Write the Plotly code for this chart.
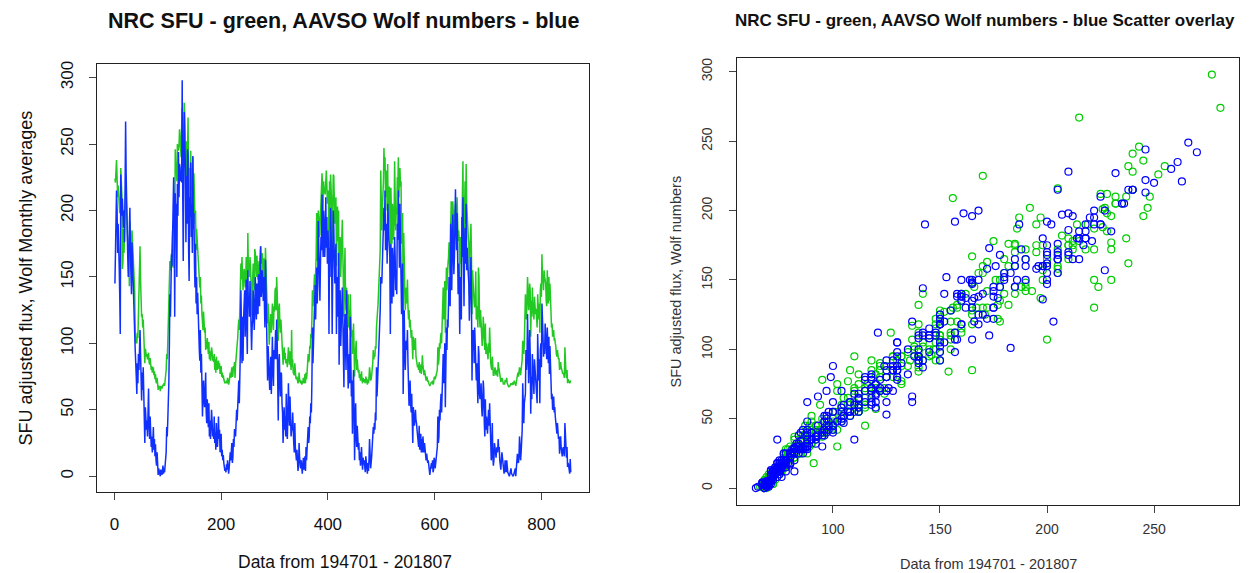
import plotly.graph_objects as go

# ---------------- data (monthly, 1947-01 onward) ----------------
# AAVSO Wolf numbers (blue), one row per year
wolf = [
    145, 178, 196, 215, 201, 168, 190, 180, 158, 136, 107, 227,   # 1947
    212, 196, 209, 198, 187, 200, 176, 215, 267, 228, 190, 172,   # 1948
    165, 150, 178, 190, 202, 168, 155, 137, 176, 160, 142, 120,   # 1949
    120, 108, 95, 88, 75, 62, 85, 70, 92, 80, 98, 110,            # 1950
    92, 70, 57, 78, 65, 82, 60, 48, 25, 52, 40, 35,               # 1951
    42, 30, 48, 66, 38, 28, 45, 34, 22, 30, 18, 26,               # 1952
    37, 20, 28, 15, 24, 12, 8, 18, 10, 1, 6, 4,                   # 1953
    2, 0, 5, 3, 1, 4, 8, 2, 6, 3, 10, 12,                         # 1954
    18, 37, 30, 42, 55, 70, 100, 137, 120, 150, 167, 158,         # 1955
    175, 192, 225, 196, 120, 213, 185, 205, 150, 220, 196, 244,   # 1956
    210, 235, 232, 222, 228, 221, 298, 215, 162, 230, 274, 249,   # 1957
    232, 176, 226, 190, 246, 242, 172, 147, 210, 195, 236, 180,   # 1958
    205, 168, 241, 186, 198, 160, 142, 175, 130, 150, 122, 138,   # 1959
    118, 105, 96, 87, 110, 78, 92, 70, 45, 60, 72, 58,            # 1960
    52, 64, 78, 48, 40, 58, 44, 37, 55, 30, 42, 28,               # 1961
    38, 50, 42, 30, 35, 28, 45, 25, 33, 20, 40, 26,               # 1962
    22, 30, 45, 28, 35, 18, 25, 32, 15, 20, 12, 16,               # 1963
    10, 8, 4, 6, 3, 9, 5, 12, 7, 2, 6, 14,                        # 1964
    18, 12, 20, 25, 10, 14, 28, 22, 35, 35, 30, 38,               # 1965
    50, 42, 58, 60, 72, 55, 68, 95, 140, 110, 85, 120,            # 1966
    87, 118, 130, 140, 105, 125, 148, 112, 92, 155, 128, 135,     # 1967
    120, 147, 132, 108, 95, 112, 118, 140, 128, 110, 125, 150,    # 1968
    130, 118, 145, 138, 122, 152, 140, 128, 160, 173, 135, 148,   # 1969
    155, 140, 132, 150, 125, 112, 163, 138, 118, 92, 72, 98,      # 1970
    85, 80, 65, 78, 90, 62, 75, 105, 82, 68, 95, 88,              # 1971
    95, 110, 88, 118, 102, 75, 42, 85, 92, 70, 60, 78,            # 1972
    77, 55, 48, 25, 40, 52, 35, 45, 30, 62, 38, 28,               # 1973
    45, 70, 52, 38, 60, 42, 30, 35, 35, 48, 28, 25,               # 1974
    18, 40, 22, 15, 12, 20, 10, 4, 8, 25, 14, 10,                 # 1975
    6, 12, 3, 2, 8, 14, 5, 10, 15, 4, 22, 12,                     # 1976
    20, 28, 37, 25, 30, 45, 40, 55, 48, 70, 112, 85,              # 1977
    100, 115, 127, 144, 118, 135, 157, 130, 145, 192, 170, 155,   # 1978
    132, 158, 180, 170, 212, 185, 165, 200, 190, 165, 178, 210,   # 1979
    172, 195, 160, 185, 175, 107, 172, 150, 202, 180, 165, 107,   # 1980
    155, 200, 188, 165, 145, 162, 175, 107, 150, 120, 132, 168,   # 1981
    84, 125, 140, 98, 115, 130, 142, 118, 95, 67, 110, 122,       # 1982
    98, 80, 140, 105, 88, 66, 75, 92, 70, 120, 85, 60,            # 1983
    72, 32, 65, 80, 48, 12, 40, 55, 30, 22, 38, 29,               # 1984
    20, 25, 12, 18, 8, 15, 22, 10, 5, 14, 9, 12,                  # 1985
    6, 3, 15, 8, 5, 2, 10, 4, 12, 28, 18, 6,                      # 1986
    10, 15, 22, 28, 37, 32, 40, 35, 48, 42, 82, 60,               # 1987
    70, 88, 95, 102, 112, 125, 150, 145, 145, 160, 175, 190,      # 1988
    202, 185, 215, 170, 177, 190, 160, 205, 195, 180, 172, 165,   # 1989
    107, 175, 148, 130, 172, 160, 135, 150, 180, 165, 140, 155,   # 1990
    137, 190, 178, 215, 165, 157, 205, 180, 130, 122, 145, 160,   # 1991
    62, 101, 125, 92, 80, 100, 102, 95, 110, 85, 68, 53,          # 1992
    60, 72, 55, 48, 62, 40, 25, 52, 45, 38, 42, 50,               # 1993
    42, 40, 35, 28, 30, 22, 38, 20, 25, 32, 18, 28,               # 1994
    18, 30, 22, 18, 25, 20, 15, 12, 17, 14, 10, 12,               # 1995
    8, 4, 1, 5, 7, 10, 6, 12, 3, 5, 14, 12,                       # 1996
    6, 10, 15, 18, 22, 45, 25, 30, 50, 42, 55, 62,                # 1997
    48, 68, 75, 92, 70, 85, 100, 52, 110, 112, 95, 118,           # 1998
    112, 130, 150, 138, 128, 190, 182, 140, 160, 197, 175, 152,   # 1999
    165, 180, 216, 190, 170, 198, 175, 137, 160, 145, 107, 150,   # 2000
    130, 118, 195, 165, 210, 142, 128, 170, 187, 160, 205, 155,   # 2001
    172, 160, 155, 145, 117, 138, 150, 165, 130, 72, 110, 95,     # 2002
    110, 85, 112, 90, 84, 72, 85, 68, 55, 98, 92, 62,             # 2003
    58, 62, 70, 52, 45, 55, 72, 65, 40, 30, 58, 35,               # 2004
    45, 38, 32, 42, 50, 38, 55, 40, 28, 12, 18, 40,               # 2005
    15, 8, 12, 25, 22, 18, 14, 20, 22, 18, 28, 20,                # 2006
    22, 12, 8, 5, 12, 18, 14, 8, 4, 2, 5, 12,                     # 2007
    5, 3, 12, 4, 3, 2, 1, 0, 2, 4, 6, 2,                          # 2008
    1, 1, 0, 1, 3, 4, 6, 0, 5, 8, 17, 12,                         # 2009
    10, 15, 30, 22, 12, 18, 25, 35, 70, 48, 40, 55,               # 2010
    60, 62, 95, 80, 88, 122, 98, 70, 85, 110, 92, 47,             # 2011
    75, 58, 92, 85, 70, 62, 88, 80, 80, 72, 65, 55,               # 2012
    107, 85, 72, 88, 55, 95, 100, 82, 130, 118, 105, 90,          # 2013
    100, 92, 115, 108, 95, 88, 112, 100, 85, 105, 77, 98,         # 2014
    80, 65, 58, 62, 50, 55, 60, 48, 52, 45, 42, 37,               # 2015
    32, 40, 35, 28, 30, 17, 25, 30, 22, 18, 15, 20,               # 2016
    22, 18, 15, 40, 25, 20, 14, 22, 7, 10, 8, 6,                  # 2017
    2, 13, 3,                                                     # 2018
]

# NRC adjusted solar flux in SFU (green), one row per year
flux = [
    224, 221, 230, 238, 226, 210, 219, 214, 205, 198, 200, 232,   # 1947
    225, 212, 156, 161, 186, 168, 182, 205, 215, 210, 195, 188,   # 1948
    180, 165, 175, 143, 192, 178, 170, 166, 185, 176, 172, 166,   # 1949
    158, 140, 110, 100, 102, 100, 108, 104, 118, 125, 150, 173,   # 1950
    148, 128, 120, 122, 112, 118, 104, 98, 85, 96, 92, 90,        # 1951
    92, 88, 90, 93, 86, 84, 89, 85, 80, 83, 78, 81,               # 1952
    82, 76, 79, 73, 77, 71, 70, 74, 70, 65, 68, 67,               # 1953
    67, 64, 68, 67, 66, 67, 69, 68, 70, 68, 72, 75,               # 1954
    80, 92, 88, 100, 112, 125, 148, 162, 155, 160, 165, 172,      # 1955
    185, 157, 170, 165, 178, 246, 228, 236, 222, 250, 245, 246,   # 1956
    248, 261, 255, 246, 240, 263, 277, 240, 238, 258, 281, 266,   # 1957
    238, 205, 252, 218, 243, 270, 212, 200, 232, 222, 245, 215,   # 1958
    232, 205, 240, 210, 228, 196, 190, 200, 170, 186, 177, 175,   # 1959
    165, 152, 146, 142, 150, 130, 136, 122, 115, 110, 124, 112,   # 1960
    108, 112, 95, 102, 96, 104, 98, 92, 101, 88, 94, 87,          # 1961
    92, 97, 94, 87, 90, 86, 92, 80, 88, 78, 90, 82,               # 1962
    80, 84, 87, 81, 85, 77, 79, 83, 75, 78, 74, 76,               # 1963
    73, 72, 70, 71, 70, 72, 70, 74, 72, 69, 71, 75,               # 1964
    78, 74, 79, 82, 75, 76, 83, 80, 86, 74, 84, 88,               # 1965
    95, 98, 104, 112, 118, 110, 124, 138, 160, 148, 165, 152,     # 1966
    140, 150, 156, 152, 142, 150, 165, 148, 140, 183, 155, 160,   # 1967
    150, 165, 158, 145, 132, 121, 148, 160, 155, 140, 171, 168,   # 1968
    158, 150, 166, 160, 148, 153, 162, 155, 170, 173, 160, 165,   # 1969
    168, 158, 140, 164, 150, 142, 172, 158, 140, 128, 115, 130,   # 1970
    122, 99, 107, 115, 122, 108, 116, 130, 120, 110, 128, 124,    # 1971
    140, 142, 125, 150, 138, 120, 102, 125, 130, 115, 108, 118,   # 1972
    107, 100, 96, 84, 90, 97, 88, 93, 85, 88, 87, 82,             # 1973
    92, 97, 90, 84, 94, 86, 80, 110, 82, 88, 78, 77,              # 1974
    76, 85, 77, 74, 73, 75, 72, 70, 71, 78, 73, 72,               # 1975
    70, 72, 69, 70, 71, 74, 70, 72, 77, 70, 78, 73,               # 1976
    78, 84, 92, 86, 88, 98, 96, 107, 104, 118, 140, 128,          # 1977
    138, 145, 152, 142, 150, 165, 198, 162, 178, 200, 195, 180,   # 1978
    182, 195, 210, 205, 228, 218, 200, 222, 214, 215, 212, 225,   # 1979
    230, 220, 205, 215, 212, 157, 222, 200, 227, 218, 205, 165,   # 1980
    205, 227, 226, 205, 190, 200, 210, 158, 198, 203, 177, 200,   # 1981
    140, 168, 180, 150, 160, 175, 193, 168, 145, 120, 150, 172,   # 1982
    135, 125, 142, 130, 122, 137, 112, 125, 110, 137, 118, 105,   # 1983
    110, 92, 105, 115, 96, 75, 90, 98, 102, 80, 88, 82,           # 1984
    78, 80, 74, 77, 72, 75, 79, 72, 70, 74, 71, 73,               # 1985
    71, 70, 75, 72, 71, 69, 73, 70, 74, 82, 78, 72,               # 1986
    73, 76, 80, 85, 95, 88, 92, 90, 98, 96, 112, 118,             # 1987
    118, 130, 140, 150, 157, 170, 230, 185, 185, 200, 210, 222,   # 1988
    247, 230, 240, 210, 230, 225, 200, 235, 187, 215, 218, 205,   # 1989
    155, 217, 190, 175, 205, 198, 178, 190, 237, 212, 185, 200,   # 1990
    197, 225, 215, 240, 210, 227, 232, 218, 222, 175, 188, 198,   # 1991
    118, 183, 165, 140, 125, 135, 142, 130, 148, 128, 118, 125,   # 1992
    112, 118, 108, 104, 110, 100, 88, 105, 98, 95, 100, 104,      # 1993
    90, 88, 86, 82, 84, 80, 86, 78, 81, 84, 77, 82,               # 1994
    91, 84, 79, 76, 80, 77, 75, 72, 75, 74, 71, 72,               # 1995
    70, 69, 68, 69, 70, 71, 70, 72, 69, 70, 74, 75,               # 1996
    73, 75, 77, 78, 80, 97, 84, 88, 100, 96, 104, 108,            # 1997
    100, 112, 120, 142, 118, 130, 147, 108, 150, 157, 140, 160,   # 1998
    160, 165, 176, 160, 150, 187, 207, 170, 182, 207, 198, 180,   # 1999
    190, 198, 205, 202, 185, 210, 195, 177, 185, 178, 150, 180,   # 2000
    172, 160, 197, 185, 237, 175, 165, 200, 222, 190, 235, 205,   # 2001
    190, 185, 180, 175, 137, 168, 178, 190, 165, 122, 155, 140,   # 2002
    145, 130, 127, 132, 154, 118, 128, 120, 112, 157, 150, 120,   # 2003
    112, 125, 115, 105, 98, 104, 120, 112, 95, 95, 115, 92,       # 2004
    100, 96, 90, 88, 100, 93, 112, 90, 85, 82, 80, 90,            # 2005
    78, 76, 76, 80, 82, 79, 76, 78, 80, 75, 86, 82,               # 2006
    80, 75, 72, 71, 72, 74, 73, 71, 69, 70, 69, 72,               # 2007
    72, 71, 74, 70, 69, 68, 67, 68, 68, 69, 70, 69,               # 2008
    69, 70, 69, 69, 72, 70, 71, 68, 71, 74, 76, 78,               # 2009
    75, 78, 82, 80, 76, 80, 84, 88, 102, 96, 92, 100,             # 2010
    115, 137, 128, 118, 132, 150, 140, 125, 130, 145, 140, 105,   # 2011
    132, 120, 142, 128, 122, 118, 135, 130, 122, 126, 115, 112,   # 2012
    137, 128, 118, 130, 108, 140, 145, 135, 167, 150, 148, 140,   # 2013
    155, 150, 148, 145, 132, 128, 155, 140, 130, 150, 132, 145,   # 2014
    128, 118, 112, 115, 105, 108, 110, 102, 104, 100, 98, 92,     # 2015
    90, 95, 92, 88, 89, 80, 84, 86, 82, 80, 78, 77,               # 2016
    78, 76, 74, 97, 82, 78, 74, 80, 70, 73, 72, 71,               # 2017
    70, 71, 72,                                                   # 2018
]

months = list(range(1, len(wolf) + 1))

left_title = "NRC SFU - green, AAVSO Wolf numbers - blue"
right_title = "NRC SFU - green, AAVSO Wolf numbers - blue Scatter overlay"
x_title = "Data from 194701 - 201807"
left_y_title = "SFU adjusted flux, Wolf Monthly averages"
right_y_title = "SFU adjusted flux, Wolf numbers"
left_xticks = [0, 200, 400, 600, 800]
left_yticks = [0, 50, 100, 150, 200, 250, 300]
right_xticks = [100, 150, 200, 250]
right_yticks = [0, 50, 100, 150, 200, 250, 300]

# ---------------- layout helpers ----------------
W, H = 1250, 573


def fx(p):
    return p / W


def fy(p):
    return 1 - p / H


def rpad(lo, hi):
    d = (hi - lo) * 0.04
    return [lo - d, hi + d]


GREEN_LINE = "#22C922"
BLUE_LINE = "#1030FF"
GREEN_PT = "#00CD00"
BLUE_PT = "#0000FF"
FONT = "Liberation Sans, Arial, Helvetica, sans-serif"

fig = go.Figure()
fig.add_trace(go.Scatter(x=months, y=flux, mode="lines",
                         line=dict(color=GREEN_LINE, width=1.5),
                         xaxis="x", yaxis="y", showlegend=False, hoverinfo="skip"))
fig.add_trace(go.Scatter(x=months, y=wolf, mode="lines",
                         line=dict(color=BLUE_LINE, width=1.5),
                         xaxis="x", yaxis="y", showlegend=False, hoverinfo="skip"))
fig.add_trace(go.Scatter(x=flux[0::2], y=wolf[0::2], mode="markers",
                         marker=dict(symbol="circle-open", size=7, color=GREEN_PT,
                                     line=dict(width=1.2, color=GREEN_PT)),
                         xaxis="x2", yaxis="y2", showlegend=False, hoverinfo="skip"))
fig.add_trace(go.Scatter(x=flux[1::2], y=wolf[1::2], mode="markers",
                         marker=dict(symbol="circle-open", size=7, color=BLUE_PT,
                                     line=dict(width=1.2, color=BLUE_PT)),
                         xaxis="x2", yaxis="y2", showlegend=False, hoverinfo="skip"))

allv = flux + wolf
yr = rpad(min(allv), max(allv))
wr = rpad(min(wolf), max(wolf))

axis_common = dict(showline=True, mirror=True, linecolor="#222", linewidth=1,
                   ticks="outside", ticklen=7, tickcolor="#444", tickwidth=1,
                   showgrid=False, zeroline=False, fixedrange=True)

fig.update_layout(
    width=W, height=H, autosize=False,
    margin=dict(l=0, r=0, t=0, b=0, pad=0),
    paper_bgcolor="white", plot_bgcolor="white",
    font=dict(family=FONT, color="#111"),
    xaxis=dict(domain=[fx(96.7), fx(589)], range=rpad(1, len(months)),
               tickvals=left_xticks, tickfont=dict(size=17, color="#111"),
               ticklabelstandoff=9, anchor="y", **axis_common),
    yaxis=dict(domain=[fy(491.7), fy(61.7)], range=yr,
               tickvals=left_yticks, tickangle=-90, tickfont=dict(size=17, color="#111"),
               ticklabelstandoff=9, anchor="x", **axis_common),
    xaxis2=dict(domain=[fx(737.3), fx(1239)], range=rpad(min(flux), max(flux)),
                tickvals=right_xticks, tickfont=dict(size=14, color="#333"),
                ticklabelstandoff=5, anchor="y2", **axis_common),
    yaxis2=dict(domain=[fy(504.3), fy(55.3)], range=wr,
                tickvals=right_yticks, tickangle=-90, tickfont=dict(size=14, color="#333"),
                ticklabelstandoff=12, anchor="x2", **axis_common),
)

ann = [
    dict(text="<b>%s</b>" % left_title, x=fx(343), y=fy(18), size=21.5, color="#111", angle=0),
    dict(text="<b>%s</b>" % right_title, x=fx(985), y=fy(18), size=17, color="#111", angle=0),
    dict(text=x_title, x=fx(345), y=fy(562), size=17.5, color="#111", angle=0),
    dict(text=x_title, x=fx(988), y=fy(564), size=14.5, color="#333", angle=0),
    dict(text=left_y_title, x=fx(26), y=fy(277), size=18, color="#111", angle=-90),
    dict(text=right_y_title, x=fx(676), y=fy(280), size=14.5, color="#333", angle=-90),
]
for a in ann:
    fig.add_annotation(text=a["text"], x=a["x"], y=a["y"], xref="paper", yref="paper",
                       showarrow=False, xanchor="center", yanchor="middle",
                       textangle=a["angle"], font=dict(size=a["size"], color=a["color"], family=FONT))

fig.write_html("out.html", config={"displayModeBar": False},
               post_script="document.body.style.margin='0';")
